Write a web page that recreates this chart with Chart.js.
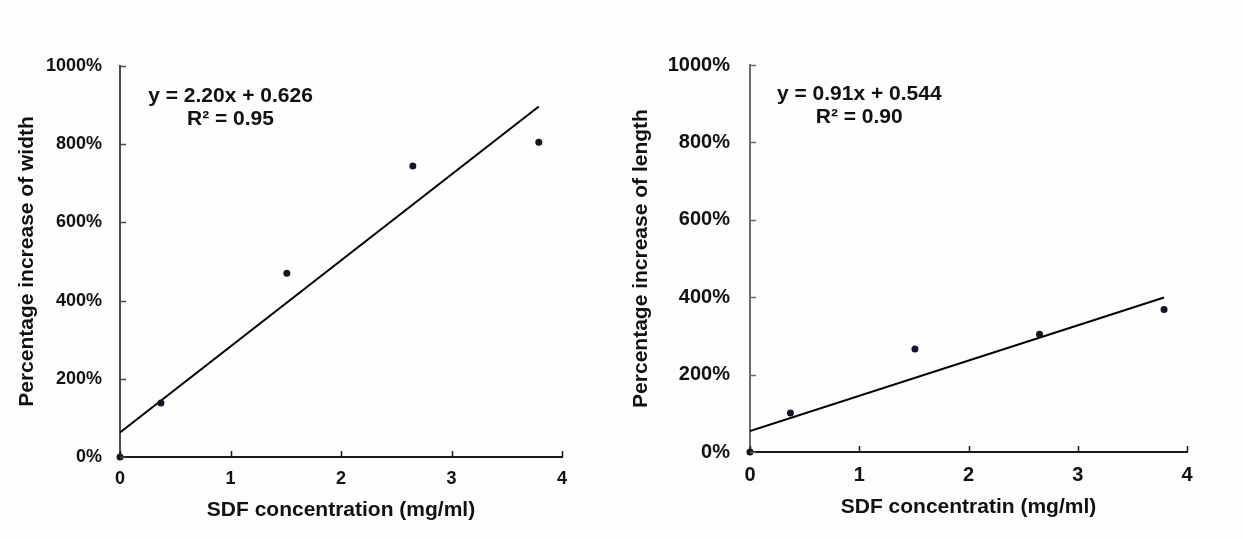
<!DOCTYPE html>
<html>
<head>
<meta charset="utf-8">
<script src="https://cdn.jsdelivr.net/npm/chart.js@4"></script>
<style>
  html, body { margin: 0; padding: 0; background: #fdfdfd; }
  #wrap { position: relative; width: 1243px; height: 539px; }
  .box { position: absolute; top: 0; height: 539px; }
  #left { left: 0; width: 620px; }
  #right { left: 620px; width: 623px; }
</style>
</head>
<body>
<div id="wrap">
  <div class="box" id="left"><canvas id="cWidth"></canvas></div>
  <div class="box" id="right"><canvas id="cLength"></canvas></div>
</div>
<script>
// SDF concentration (mg/ml)
const concentration = [0, 0.37, 1.51, 2.65, 3.79];
// percentage increase, as fractions (1 = 100%)
const widthIncrease = [0, 1.38, 4.70, 7.44, 8.05];
const lengthIncrease = [0, 1.01, 2.66, 3.04, 3.68];

// linear trendline end points (x = 0 and x = 3.79)
const trendX = [0, 3.79];
const widthTrend = [0.626, 8.964];
const lengthTrend = [0.544, 3.993];

const widthEquation = ['y = 2.20x + 0.626', 'R² = 0.95'];
const lengthEquation = ['y = 0.91x + 0.544', 'R² = 0.90'];

const FONT = '"Liberation Sans", Arial, sans-serif';

// tick marks pointing into the plot area
const innerTicks = {
  id: 'innerTicks',
  afterDatasetsDraw(chart, args, opts) {
    const { ctx, chartArea, scales: { x, y } } = chart;
    ctx.save();
    ctx.lineWidth = 1.5;
    ctx.strokeStyle = opts.xColor;
    ctx.beginPath();
    for (const t of x.ticks) {
      const px = Math.round(x.getPixelForValue(t.value)) + 0.5;
      ctx.moveTo(px, chartArea.bottom);
      ctx.lineTo(px, chartArea.bottom - opts.len);
    }
    ctx.stroke();
    ctx.strokeStyle = opts.yColor;
    ctx.beginPath();
    for (const t of y.ticks) {
      const py = Math.round(y.getPixelForValue(t.value)) + 0.5;
      ctx.moveTo(chartArea.left, py);
      ctx.lineTo(chartArea.left + opts.len, py);
    }
    ctx.stroke();
    ctx.restore();
  }
};

// trendline equation text
const equation = {
  id: 'equation',
  afterDraw(chart, args, opts) {
    const { ctx, scales: { x, y } } = chart;
    ctx.save();
    ctx.font = `bold ${opts.size}px ${FONT}`;
    ctx.fillStyle = '#111';
    ctx.textAlign = 'center';
    ctx.textBaseline = 'middle';
    opts.lines.forEach((s, i) => {
      ctx.fillText(s, x.getPixelForValue(opts.atX[i]), y.getPixelForValue(opts.atY[i]));
    });
    ctx.restore();
  }
};

function makeChart(id, cfg) {
  const points = concentration.map((c, i) => ({ x: c, y: cfg.values[i] }));
  const trend = trendX.map((c, i) => ({ x: c, y: cfg.trend[i] }));
  return new Chart(document.getElementById(id), {
    type: 'scatter',
    data: {
      datasets: [
        {
          data: points,
          backgroundColor: '#15152a',
          borderColor: '#15152a',
          borderWidth: 0,
          pointRadius: 3.5,
          clip: false,
        },
        {
          type: 'line',
          data: trend,
          borderColor: '#000',
          borderWidth: 2,
          pointRadius: 0,
          fill: false,
        },
      ],
    },
    options: {
      responsive: true,
      maintainAspectRatio: false,
      animation: false,
      layout: { padding: cfg.padding },
      plugins: {
        legend: { display: false },
        tooltip: { enabled: false },
        innerTicks: { len: 6, xColor: '#1a1a1a', yColor: cfg.yAxisColor },
        equation: { lines: cfg.equation, atX: [1, 1], atY: cfg.eqY, size: cfg.eqSize },
      },
      scales: {
        x: {
          type: 'linear',
          min: 0,
          max: 4,
          ticks: { stepSize: 1, padding: cfg.xTickPad, color: '#111', font: { family: FONT, size: cfg.tickSize, weight: 'bold' } },
          grid: { display: false, drawTicks: false },
          border: { display: true, color: '#1a1a1a', width: 2 },
          title: {
            display: true,
            text: cfg.xTitle,
            color: '#111',
            font: { family: FONT, size: cfg.titleSize, weight: 'bold' },
            padding: { top: 0, bottom: cfg.xTitleBottom },
          },
          afterFit: (s) => { s.height = cfg.xHeight; },
        },
        y: {
          min: 0,
          max: 10,
          ticks: {
            stepSize: 2,
            padding: cfg.yTickPad,
            color: '#111',
            font: { family: FONT, size: cfg.tickSize, weight: 'bold' },
            callback: (v) => Math.round(v * 100) + '%',
          },
          grid: { display: false, drawTicks: false },
          border: { display: true, color: cfg.yAxisColor, width: 2 },
          title: {
            display: true,
            text: cfg.yTitle,
            color: '#111',
            font: { family: FONT, size: cfg.titleSize, weight: 'bold' },
            padding: { top: cfg.yTitleLeft, bottom: 0 },
          },
          afterFit: (s) => { s.width = cfg.yWidth; },
        },
      },
    },
    plugins: [innerTicks, equation],
  });
}

makeChart('cWidth', {
  values: widthIncrease,
  trend: widthTrend,
  equation: widthEquation,
  eqY: [9.24, 8.64],
  eqSize: 21,
  xTitle: 'SDF concentration (mg/ml)',
  yTitle: 'Percentage increase of width',
  padding: { left: 0, top: 66, right: 58, bottom: 0 },
  yWidth: 120,
  xHeight: 82,
  tickSize: 18,
  titleSize: 21,
  xTickPad: 11,
  yTickPad: 18,
  xTitleBottom: 16,
  yTitleLeft: 15,
  yAxisColor: '#4a4a4a',
});

makeChart('cLength', {
  values: lengthIncrease,
  trend: lengthTrend,
  equation: lengthEquation,
  eqY: [9.24, 8.66],
  eqSize: 21,
  xTitle: 'SDF concentratin (mg/ml)',
  yTitle: 'Percentage increase of length',
  padding: { left: 0, top: 65, right: 56, bottom: 0 },
  yWidth: 130,
  xHeight: 87,
  tickSize: 20,
  titleSize: 21,
  xTickPad: 11,
  yTickPad: 20,
  xTitleBottom: 19,
  yTitleLeft: 9,
  yAxisColor: '#6a6a6a',
});
</script>
</body>
</html>
